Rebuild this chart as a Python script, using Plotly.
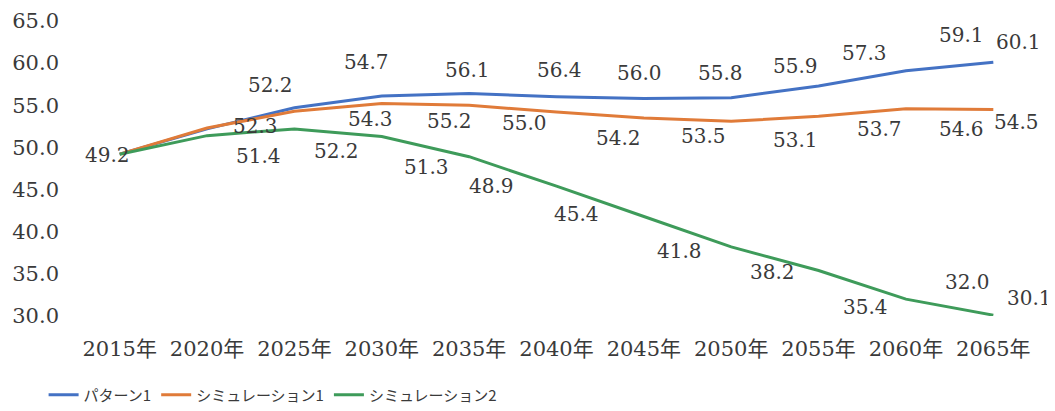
import plotly.graph_objects as go

years = ["2015年", "2020年", "2025年", "2030年", "2035年", "2040年",
         "2045年", "2050年", "2055年", "2060年", "2065年"]
pattern1 = [49.2, 52.2, 54.7, 56.1, 56.4, 56.0, 55.8, 55.9, 57.3, 59.1, 60.1]
sim1 = [49.2, 52.3, 54.3, 55.2, 55.0, 54.2, 53.5, 53.1, 53.7, 54.6, 54.5]
sim2 = [49.2, 51.4, 52.2, 51.3, 48.9, 45.4, 41.8, 38.2, 35.4, 32.0, 30.1]
names = ["パターン1", "シミュレーション1", "シミュレーション2"]
y_ticks = [30, 35, 40, 45, 50, 55, 60, 65]

# label offsets (pixels) relative to each point: dx right, dy down; None = no label
offsets = [
    ([-12, 63, 72, 86, 90, 83, 77, 64, 46, 56, 25],
     [1, -44, -46, -26, -23, -24, -26, -32, -33, -36, -20]),
    ([None, 48, 76, 68, 55, 62, 60, 64, 61, 56, 23],
     [None, -2, 8, 17, 18, 26, 18, 19, 13, 20, 12]),
    ([None, 51, 42, 45, 22, 20, 36, 41, 47, 62, 36],
     [None, 20, 22, 31, 29, 28, 34, 25, 37, -17, -17]),
]
colors = ["#4472C4", "#E07B39", "#3E9B5A"]

serif = "DejaVu Serif, Noto Sans CJK JP, serif"

fig = go.Figure()
annotations = []
for series, name, color, (dxs, dys) in zip([pattern1, sim1, sim2], names, colors, offsets):
    xs = list(range(len(years)))
    fig.add_trace(go.Scatter(
        x=xs, y=series, mode="lines", name=name,
        line=dict(color=color, width=3),
        hoverinfo="skip",
    ))
    for i, v in enumerate(series):
        if dxs[i] is None:
            continue
        annotations.append(dict(
            x=i, y=v, xref="x", yref="y", text=f"{v:.1f}", showarrow=False,
            xshift=dxs[i], yshift=-dys[i], xanchor="center", yanchor="middle",
            font=dict(family=serif, size=20, color="#3a3a3a"),
        ))

fig.update_layout(
    template="none",
    width=1047, height=403,
    margin=dict(l=68.35, r=18.3, t=12.7, b=95.3, autoexpand=False),
    paper_bgcolor="white", plot_bgcolor="white",
    showlegend=True,
    legend=dict(
        orientation="h", xref="container", x=0.034, xanchor="left",
        yref="container", y=0.0397, yanchor="middle",
        font=dict(family="Noto Sans CJK JP, sans-serif", size=15, color="#3a3a3a"),
        itemwidth=30, bgcolor="rgba(0,0,0,0)", borderwidth=0,
    ),
    annotations=annotations,
    xaxis=dict(
        range=[-0.5, len(years) - 0.5], automargin=False,
        tickmode="array", tickvals=list(range(len(years))), ticktext=years,
        tickangle=0, showgrid=False, zeroline=False, showline=False,
        ticks="", ticklabelstandoff=18,
        tickfont=dict(family=serif, size=21, color="#3a3a3a"),
    ),
    yaxis=dict(
        range=[30, 65], automargin=False, tickmode="array", tickvals=y_ticks,
        ticktext=[f"{t:.1f}" for t in y_ticks],
        showgrid=False, zeroline=False, showline=False, ticks="",
        ticklabelstandoff=16,
        tickfont=dict(family=serif, size=21, color="#3a3a3a"),
    ),
)

fig.write_html("out.html")
